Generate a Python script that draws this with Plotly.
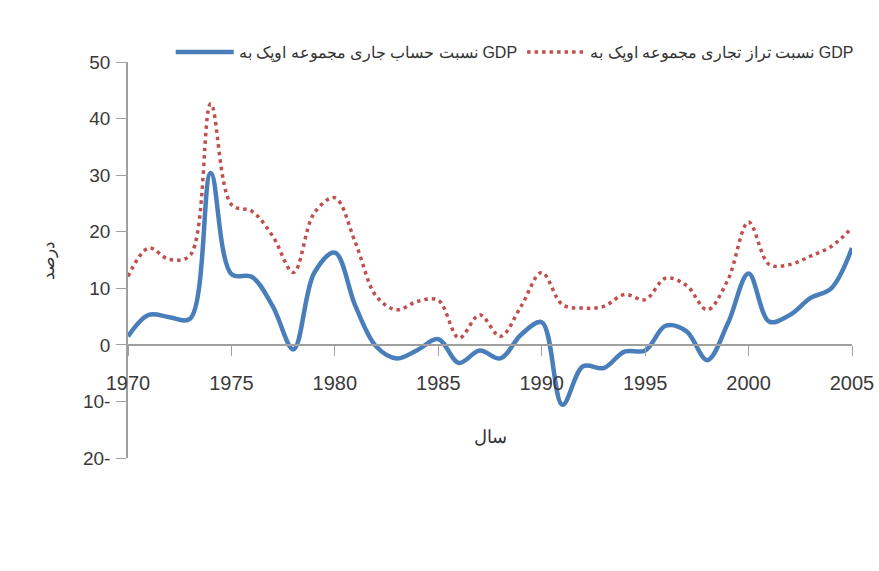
import plotly.graph_objects as go

years = list(range(1970, 2006))
current_account = [1.5, 5.3, 4.9, 4.6, 30.4, 12.5, 12.0, 6.8, -0.8, 12.7, 16.3, 6.8, -0.3, -2.4,
                   -0.9, 1.0, -3.2, -1.0, -2.4, 1.8, 4.0, -10.6, -3.8, -4.1, -1.2, -1.0, 3.4, 2.4,
                   -2.7, 3.8, 12.6, 4.1, 5.3, 8.3, 10.0, 17.1]
trade_balance = [12.1, 17.1, 15.1, 15.8, 42.6, 24.8, 23.6, 19.2, 12.8, 23.3, 26.0, 18.0, 8.6, 6.2,
                 7.7, 7.9, 1.2, 5.3, 1.5, 6.8, 12.8, 7.1, 6.5, 6.8, 8.9, 8.0, 11.8, 10.5,
                 6.2, 11.5, 21.7, 14.2, 14.2, 15.7, 17.4, 20.7]

series_names = ["نسبت حساب جاری مجموعه اوپک به GDP", "نسبت تراز تجاری مجموعه اوپک به GDP"]
x_ticks = [1970, 1975, 1980, 1985, 1990, 1995, 2000, 2005]
y_ticks = [-20, -10, 0, 10, 20, 30, 40, 50]
y_ticktext = ["20-", "10-", "0", "10", "20", "30", "40", "50"]
y_title = "درصد"
x_title = "سال"

fig = go.Figure()
fig.add_trace(go.Scatter(x=years, y=current_account, mode="lines", name=series_names[0],
                         line=dict(color="#4A7EBB", width=4.5, shape="spline", smoothing=1.0)))
fig.add_trace(go.Scatter(x=years, y=trade_balance, mode="lines", name=series_names[1],
                         line=dict(color="#C0504D", width=3.5, dash="3.5px,4px",
                                   shape="spline", smoothing=1.0)))

ymin, ymax = -20, 50
plot_h = 571 - 62 - 113
fig.update_layout(
    width=879, height=571,
    paper_bgcolor="white", plot_bgcolor="white",
    margin=dict(l=128, r=27, t=62, b=113),
    font=dict(family="Liberation Sans, Arial, sans-serif", color="#404040", size=15),
    showlegend=True,
    legend=dict(orientation="h", x=0.059, xanchor="left",
                y=1 + 10 / plot_h, yanchor="middle",
                font=dict(size=16, color="#333333"), bgcolor="rgba(0,0,0,0)",
                itemwidth=58, tracegroupgap=0),
    xaxis=dict(range=[1970, 2005], tickvals=x_ticks, ticktext=[str(v) for v in x_ticks],
               anchor="free", position=(0 - ymin) / (ymax - ymin), automargin=False,
               showline=True, linecolor="#a0a0a0", linewidth=1.5,
               ticks="outside", ticklen=10, tickcolor="#a0a0a0",
               ticklabelstandoff=10,
               showgrid=False, zeroline=False,
               tickfont=dict(size=20, color="#3a3a3a"),
               title=dict(text=x_title, standoff=37, font=dict(size=18, color="#333333"))),
    yaxis=dict(range=[ymin, ymax], tickvals=y_ticks, ticktext=y_ticktext, automargin=False,
               showline=True, linecolor="#a0a0a0", linewidth=1.5,
               ticks="outside", ticklen=10, tickcolor="#a0a0a0",
               ticklabelstandoff=2,
               showgrid=False, zeroline=False,
               tickfont=dict(size=19, color="#3a3a3a"),
               title=dict(text=y_title, standoff=24, font=dict(size=17, color="#333333"))),
)

fig.write_html("out.html", config={"displayModeBar": False},
               post_script="document.body.style.margin='0';document.body.style.padding='0';")
